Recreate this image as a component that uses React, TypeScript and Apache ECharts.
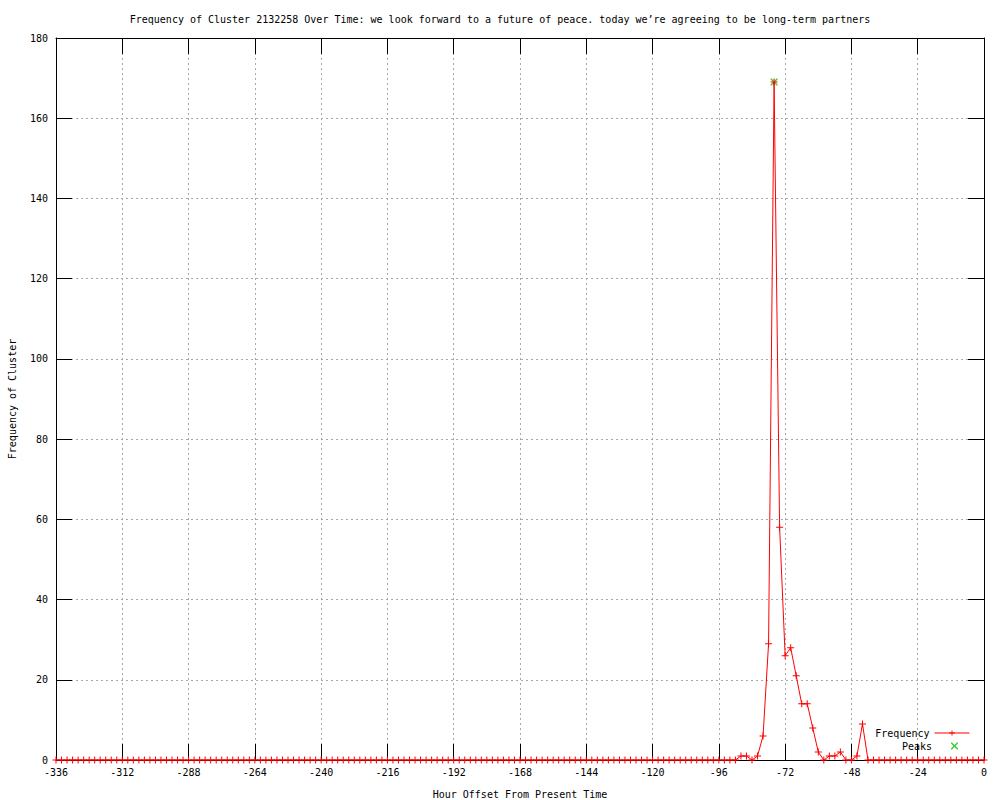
import React, { useEffect, useRef } from "react";
import * as echarts from "echarts";

const TITLE =
  "Frequency of Cluster 2132258 Over Time: we look forward to a future of peace. today we\u2019re agreeing to be long-term partners";
const X_NAME = "Hour Offset From Present Time";
const Y_NAME = "Frequency of Cluster";

// hourly offsets, every 2 hours from -336 to 0
const hours: number[] = Array.from({ length: 169 }, (_, i) => -336 + 2 * i);

// frequency at each offset (169 values)
const frequency: number[] = [
  // -336 .. -90 (124 values)
  0, 0, 0, 0, 0, 0, 0, 0, 0, 0, 0, 0, 0, 0, 0, 0, 0, 0, 0, 0,
  0, 0, 0, 0, 0, 0, 0, 0, 0, 0, 0, 0, 0, 0, 0, 0, 0, 0, 0, 0,
  0, 0, 0, 0, 0, 0, 0, 0, 0, 0, 0, 0, 0, 0, 0, 0, 0, 0, 0, 0,
  0, 0, 0, 0, 0, 0, 0, 0, 0, 0, 0, 0, 0, 0, 0, 0, 0, 0, 0, 0,
  0, 0, 0, 0, 0, 0, 0, 0, 0, 0, 0, 0, 0, 0, 0, 0, 0, 0, 0, 0,
  0, 0, 0, 0, 0, 0, 0, 0, 0, 0, 0, 0, 0, 0, 0, 0, 0, 0, 0, 0,
  0, 0, 0, 0,
  // -88 .. -44 (23 values)
  1, 1, 0, 1, 6, 29, 169, 58, 26, 28, 21, 14, 14, 8, 2, 0, 1, 1, 2, 0, 0, 1, 9,
  // -42 .. 0 (22 values)
  0, 0, 0, 0, 0, 0, 0, 0, 0, 0, 0, 0, 0, 0, 0, 0, 0, 0, 0, 0, 0, 0,
];

const peakHours: number[] = [-76];
const peakValues: number[] = [169];

const X_MIN = -336;
const X_MAX = 0;
const X_STEP = 24;
const Y_MIN = 0;
const Y_MAX = 180;
const Y_STEP = 20;

const FONT = "DejaVu Sans Mono";
const PLUS = "path://M3,0L4,0L4,7L3,7Z M0,3L7,3L7,4L0,4Z";
const CROSS =
  "path://M0,0L1,0L7,6L7,7L6,7L0,1Z M6,0L7,0L7,1L1,7L0,7L0,6Z";

export default function App() {
  const ref = useRef<HTMLDivElement>(null);

  useEffect(() => {
    if (!ref.current) return;
    const chart = echarts.init(ref.current, undefined, { renderer: "svg" });

    const gridLine = {
      show: true,
      lineStyle: { color: "#a8a8a8", width: 1, type: [2, 3] as number[] },
    };
    const tick = {
      show: true,
      inside: true,
      length: 16,
      lineStyle: { color: "#000", width: 1 },
    };
    const axisLine = {
      show: true,
      onZero: false,
      lineStyle: { color: "#000", width: 1 },
    };
    const legendText = { fontFamily: FONT, fontSize: 10, color: "#000" };

    chart.setOption({
      animation: false,
      backgroundColor: "#fff",
      textStyle: { fontFamily: FONT, color: "#000" },
      title: {
        text: TITLE,
        left: "center",
        top: 9,
        textStyle: {
          fontFamily: FONT,
          fontSize: 10,
          fontWeight: "normal",
          color: "#000",
        },
      },
      grid: {
        left: 56,
        right: 16,
        top: 38,
        bottom: 40,
        containLabel: false,
        outerBoundsMode: "none",
      },
      xAxis: [
        {
          type: "value",
          position: "bottom",
          min: X_MIN,
          max: X_MAX,
          interval: X_STEP,
          name: X_NAME,
          nameLocation: "middle",
          nameGap: 29,
          nameTextStyle: { fontFamily: FONT, fontSize: 10, color: "#000" },
          axisLine,
          axisTick: tick,
          splitLine: gridLine,
          axisLabel: {
            margin: 7,
            fontFamily: FONT,
            fontSize: 10,
            color: "#000",
          },
        },
        {
          type: "value",
          position: "top",
          min: X_MIN,
          max: X_MAX,
          interval: X_STEP,
          axisLine,
          axisTick: tick,
          splitLine: { show: false },
          axisLabel: { show: false },
        },
      ],
      yAxis: [
        {
          type: "value",
          position: "left",
          min: Y_MIN,
          max: Y_MAX,
          interval: Y_STEP,
          name: Y_NAME,
          nameLocation: "middle",
          nameGap: 39,
          nameRotate: 90,
          nameTextStyle: { fontFamily: FONT, fontSize: 10, color: "#000" },
          axisLine,
          axisTick: tick,
          splitLine: gridLine,
          axisLabel: {
            margin: 8,
            fontFamily: FONT,
            fontSize: 10,
            color: "#000",
          },
        },
        {
          type: "value",
          position: "right",
          min: Y_MIN,
          max: Y_MAX,
          interval: Y_STEP,
          axisLine,
          axisTick: tick,
          splitLine: { show: false },
          axisLabel: { show: false },
        },
      ],
      legend: [
        {
          data: ["Frequency"],
          right: 25,
          top: 723,
          align: "right",
          itemWidth: 35,
          itemHeight: 7,
          lineStyle: { width: 1 },
          textStyle: legendText,
        },
        {
          data: ["Peaks"],
          right: 37,
          top: 736,
          align: "right",
          itemWidth: 35,
          itemHeight: 7,
          textStyle: legendText,
        },
      ],
      series: [
        {
          name: "Frequency",
          type: "line",
          xAxisIndex: 0,
          yAxisIndex: 0,
          data: hours.map((h, i) => [h, frequency[i]]),
          symbol: PLUS,
          symbolSize: 7,
          showAllSymbol: true,
          lineStyle: { color: "#ff0000", width: 1 },
          itemStyle: { color: "#ff0000" },
          z: 3,
        },
        {
          name: "Peaks",
          type: "scatter",
          xAxisIndex: 0,
          yAxisIndex: 0,
          data: peakHours.map((h, i) => [h, peakValues[i]]),
          symbol: CROSS,
          symbolSize: 7,
          itemStyle: { color: "#00c000" },
          z: 2,
        },
      ],
    });

    return () => chart.dispose();
  }, []);

  return (
    <div
      ref={ref}
      style={{ position: "absolute", left: 0, top: 0, width: 1000, height: 800 }}
    />
  );
}
